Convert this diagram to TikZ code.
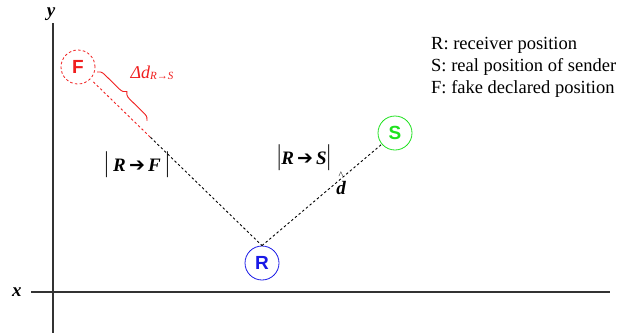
\documentclass[tikz,border=0pt]{standalone}
\usepackage{fontspec}
\usepackage{graphicx}
\setmainfont{Liberation Serif}
\newfontfamily\sansb{Liberation Sans}
\newfontfamily\dejavu{DejaVu Sans}
\usetikzlibrary{decorations.pathreplacing}
\definecolor{fred}{RGB}{240,30,30}
\definecolor{sgreen}{RGB}{30,225,30}
\definecolor{rblue}{RGB}{25,25,230}
\newcommand{\tallbar}{\scalebox{1}[1.5]{\mdseries\upshape|}}
\newcommand{\harrow}{{\dejavu\bfseries\fontsize{19}{19}\selectfont ➔}}
\begin{document}
\begin{tikzpicture}[x=1pt,y=-1pt,
  posn/.style={circle, minimum size=34pt, inner sep=0pt, line width=0.8pt,
    font=\sansb\bfseries\fontsize{19}{19}\selectfont},
  link/.style={dash pattern=on 2.4pt off 2.4pt, line width=0.9pt},
  axis/.style={line width=1.2pt, black!80},
  lbl/.style={font=\fontsize{19}{21}\selectfont\bfseries\itshape, inner sep=0pt}]
\useasboundingbox (0,0) rectangle (636,333);
% axes
\coordinate (ytop) at (53,23);
\coordinate (ybot) at (53,333);
\coordinate (xl) at (31,292);
\coordinate (xr) at (610,292);
\draw[axis] (ytop) -- (ybot);
\draw[axis] (xl) -- (xr);
\node[lbl] (xlab) at (17,292) {x};
\node[lbl] (ylab) at (51,14) {y};
% positions
\node[posn, draw=rblue, text=rblue] (R) at (262,263) {R};
\node[posn, draw=sgreen, text=sgreen] (S) at (395,133) {S};
\node[posn, draw=fred, text=fred, dash pattern=on 2.6pt off 2.2pt] (F) at (78,67) {F};
% connectors
\path (F) -- (R.north) coordinate[pos=0.35] (M);
\draw[link, fred, shorten <=4pt] (F) -- (M);
\draw[link, black] (M) -- (R.north);
\draw[link, black] (R.north) -- (S);
% brace
\coordinate (b1) at (97,72);
\coordinate (b2) at (147,121);
\draw[fred, line width=0.9pt, decorate, decoration={brace, amplitude=7pt}] (b1) -- (b2);
\node[text=fred, inner sep=0pt, font=\fontsize{18}{20}\selectfont\itshape] (dlab) at (152,73)
  {Δd\raisebox{-1pt}{\fontsize{11}{11}\selectfont R→S}};
% distance labels
\node[lbl] (rf) at (137,165) {\tallbar\ R\,\harrow\,F \tallbar};
\node[lbl] (rs) at (304,158) {\tallbar R\,\harrow\,S\tallbar};
\node[lbl, align=center] (dh) at (341,183) {\shortstack{\fontsize{10}{10}\selectfont\mdseries\upshape\textasciicircum\\[0pt]d}};
% legend
\node[anchor=west, align=left, inner sep=0pt, font=\fontsize{18.5}{22}\selectfont] (legend) at (431,67)
  {R: receiver position\\S: real position of sender\\F: fake declared position};
\end{tikzpicture}
\end{document}
